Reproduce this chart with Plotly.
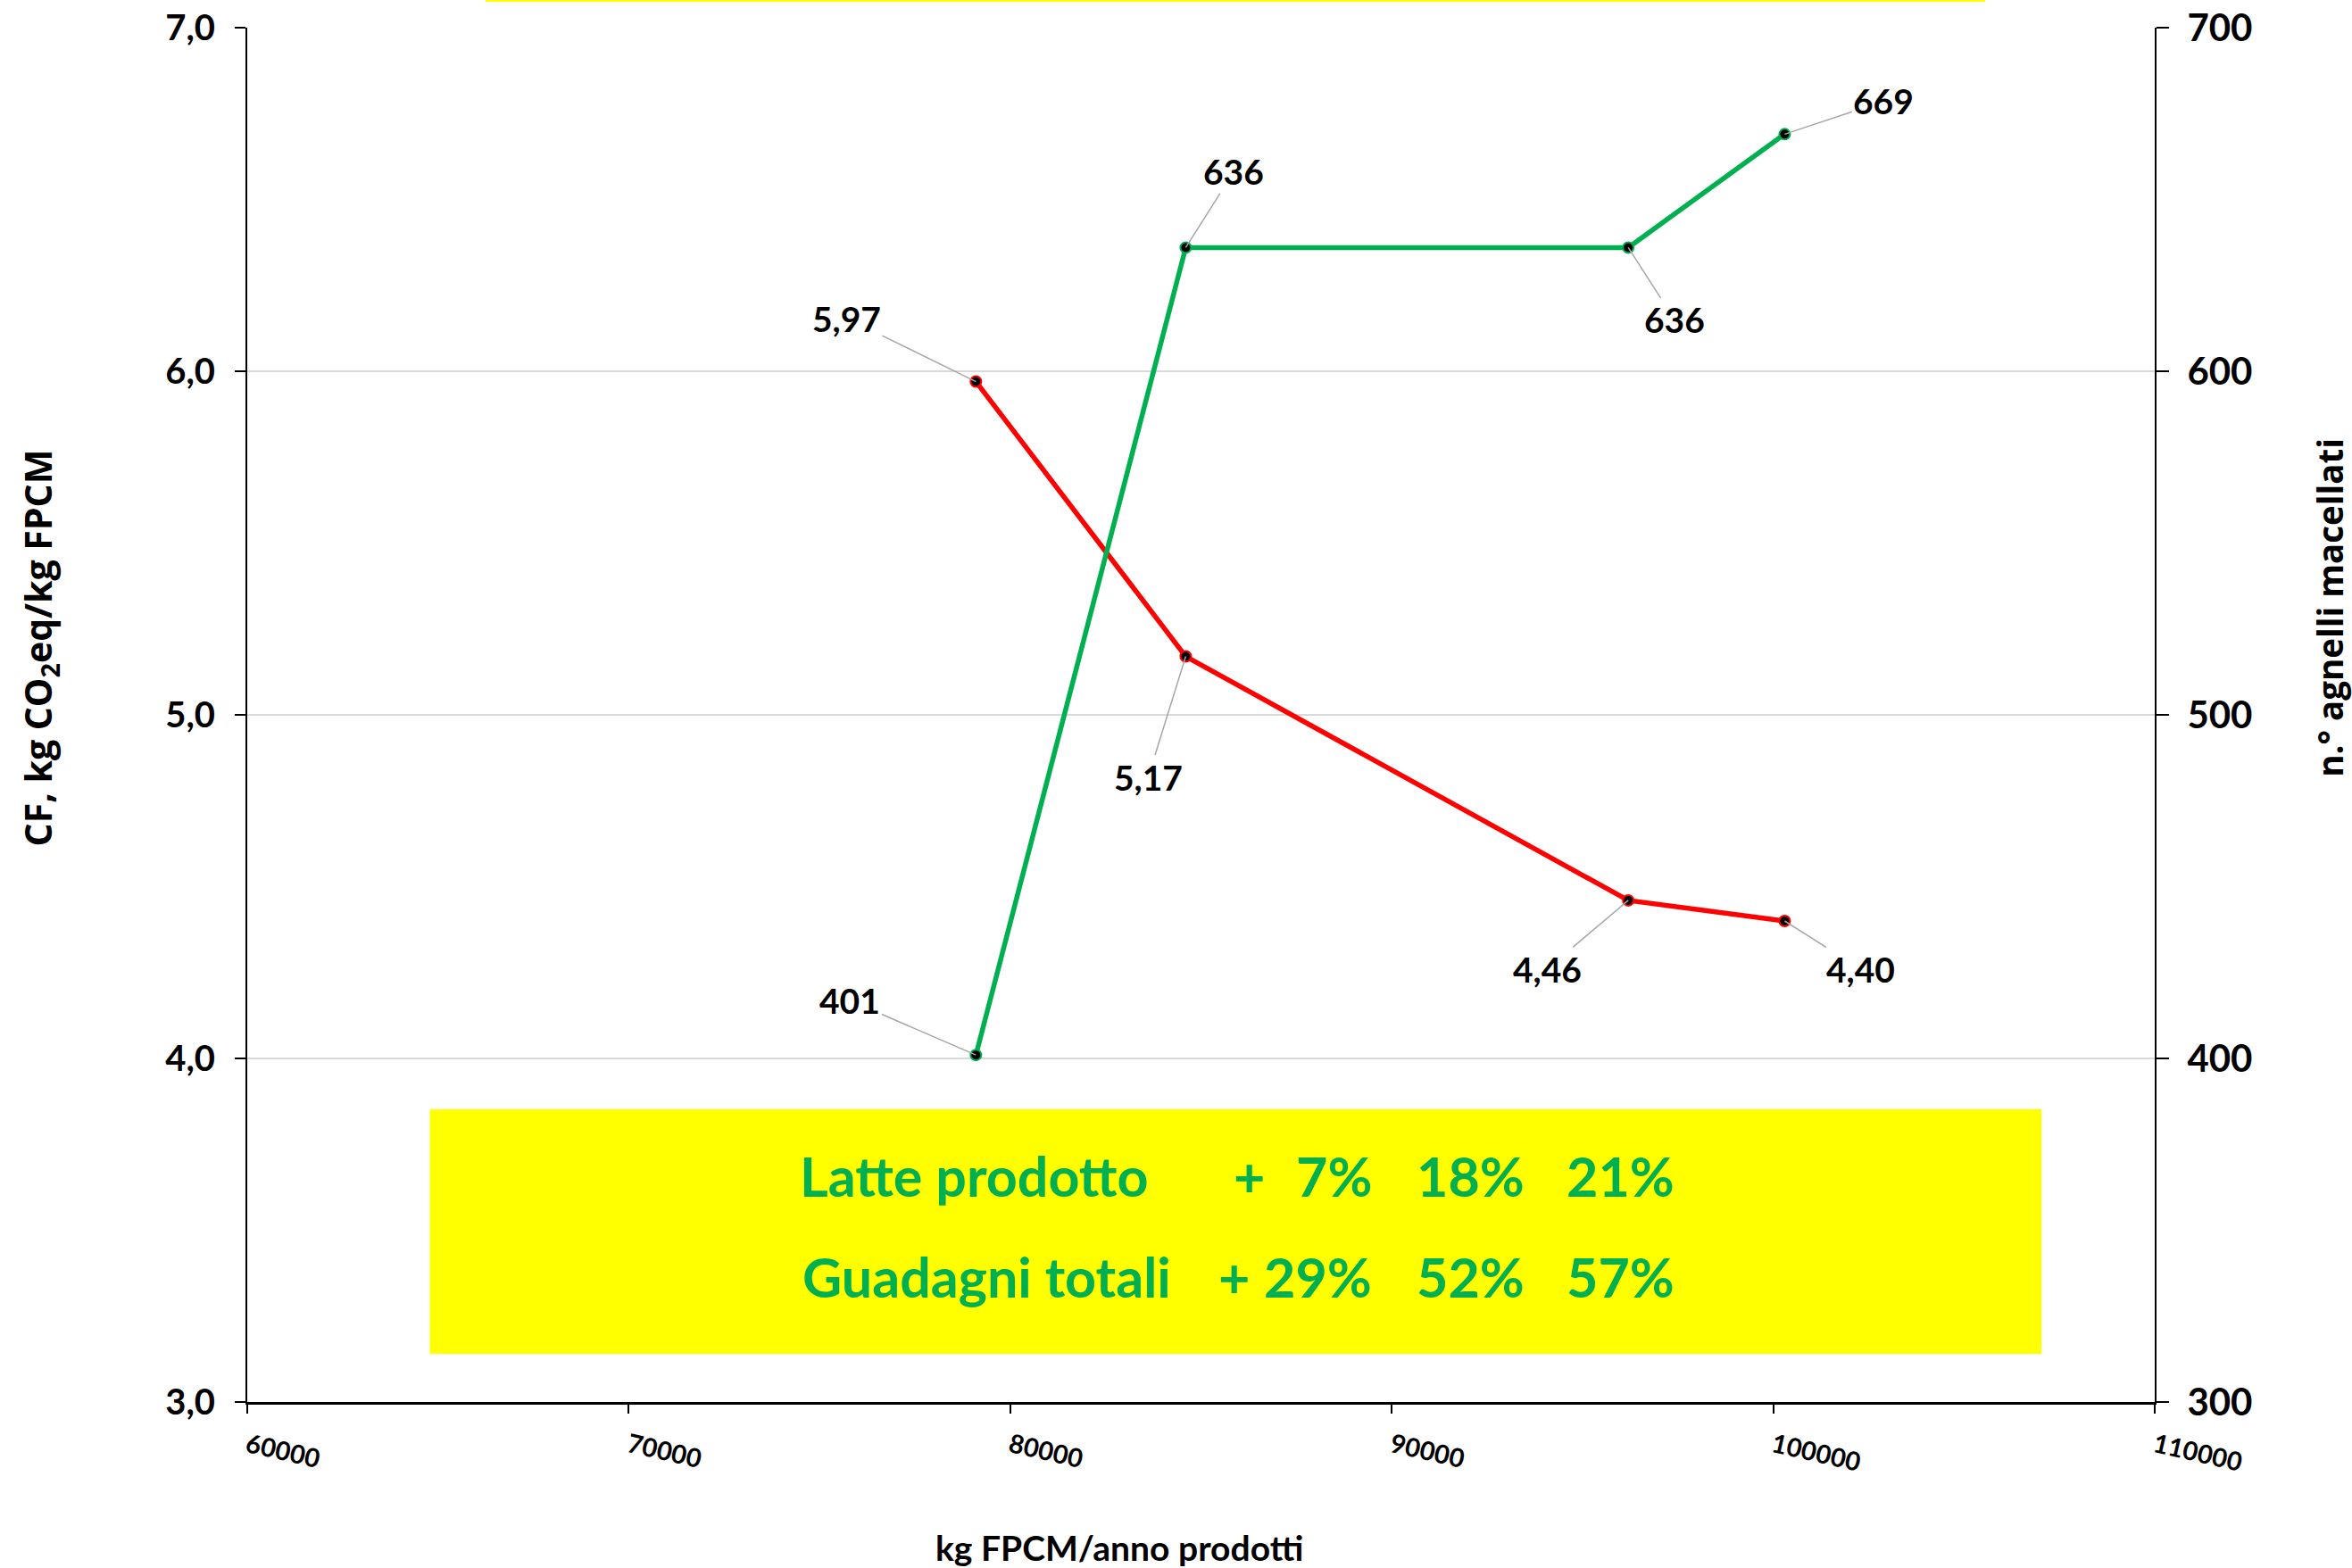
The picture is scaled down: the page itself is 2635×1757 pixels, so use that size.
import plotly.graph_objects as go

# ---- data ----
milk_kg = [79100, 84600, 96200, 100300]          # kg FPCM/anno prodotti
cf_values = [5.97, 5.17, 4.46, 4.40]              # CF, kg CO2eq/kg FPCM
lambs = [401, 636, 636, 669]                      # n.° agnelli macellati

x_ticks = [60000, 70000, 80000, 90000, 100000, 110000]
y_left_ticks = [3.0, 4.0, 5.0, 6.0, 7.0]
y_right_ticks = [300, 400, 500, 600, 700]

# label offsets (pixels) for leader-line labels
cf_label_off = [(-145, -71), (-42, 135), (-91, 77), (85, 54)]
lamb_label_off = [(-141, -61), (54, -85), (52, 81), (111, -37)]

row_names = ["Latte prodotto", "Guadagni totali"]
row_values = [["7%", "18%", "21%"], ["29%", "52%", "57%"]]

RED = "#FF0000"
GREEN = "#00B050"
CAL = "Lato, 'Open Sans', sans-serif"
OS = "'Open Sans', sans-serif"

fig = go.Figure()

fig.add_trace(go.Scatter(
    x=milk_kg, y=cf_values, mode="lines+markers",
    line=dict(color=RED, width=5.5),
    marker=dict(color="black", size=12, line=dict(color=RED, width=2)),
    yaxis="y", showlegend=False, hoverinfo="skip"))

fig.add_trace(go.Scatter(
    x=milk_kg, y=lambs, mode="lines+markers",
    line=dict(color=GREEN, width=5.5),
    marker=dict(color="black", size=12, line=dict(color=GREEN, width=2)),
    yaxis="y2", showlegend=False, hoverinfo="skip"))

label_font = dict(family=CAL, size=39, color="black", weight="bold")
annotations = []
for xv, yv, (ax, ay) in zip(milk_kg, cf_values, cf_label_off):
    annotations.append(dict(
        x=xv, y=yv, xref="x", yref="y",
        text=f"{yv:.2f}".replace(".", ","),
        showarrow=True, arrowhead=0, arrowwidth=1.5, arrowcolor="#A6A6A6",
        ax=ax, ay=ay, standoff=0, font=label_font))
for xv, yv, (ax, ay) in zip(milk_kg, lambs, lamb_label_off):
    annotations.append(dict(
        x=xv, y=yv, xref="x", yref="y2",
        text=f"{yv:d}",
        showarrow=True, arrowhead=0, arrowwidth=1.5, arrowcolor="#A6A6A6",
        ax=ax, ay=ay, standoff=0, font=label_font))

# text inside yellow box
box_font = dict(family=CAL, size=61, color=GREEN, weight="bold")
row_y = [0.1645, 0.0912]
name_x = [0.2887, 0.2901]
plus_x = [0.5255, 0.5175]
col_x = [0.5905, 0.6705, 0.7491]
for i in range(2):
    annotations.append(dict(x=name_x[i], y=row_y[i], xref="paper", yref="paper",
                            text=row_names[i], showarrow=False, xanchor="left",
                            yanchor="middle", font=box_font))
    annotations.append(dict(x=plus_x[i], y=row_y[i], xref="paper", yref="paper",
                            text="+", showarrow=False, xanchor="center",
                            yanchor="middle", font=box_font))
    for j, v in enumerate(row_values[i]):
        annotations.append(dict(x=col_x[j], y=row_y[i], xref="paper", yref="paper",
                                text=v, showarrow=False, xanchor="right",
                                yanchor="middle", font=box_font))

# axis titles as annotations
annotations.append(dict(x=-0.1086, y=0.549, xref="paper", yref="paper",
                        text="CF, kg CO<sub>2</sub>eq/kg FPCM", textangle=-90,
                        showarrow=False, xanchor="center", yanchor="middle",
                        font=dict(family=OS, size=41, color="black", weight="bold")))
annotations.append(dict(x=1.0917, y=0.578, xref="paper", yref="paper",
                        text="n.° agnelli macellati", textangle=-90,
                        showarrow=False, xanchor="center", yanchor="middle",
                        font=dict(family=OS, size=38.5, color="black", weight="bold")))
annotations.append(dict(x=0.4572, y=-0.1058, xref="paper", yref="paper",
                        text="kg FPCM/anno prodotti",
                        showarrow=False, xanchor="center", yanchor="middle",
                        font=dict(family=CAL, size=39, color="black", weight="bold")))

shapes = [
    dict(type="rect", xref="paper", yref="paper", x0=0.0957, x1=0.9406, y0=0.0351, y1=0.2130,
         fillcolor="#FFFF00", line=dict(width=0), layer="below"),
    dict(type="rect", xref="paper", yref="paper", x0=0.1249, x1=0.9111, y0=1.0188, y1=1.04,
         fillcolor="#FFFF00", line=dict(width=0), layer="below"),
]

fig.update_layout(
    width=2635, height=1757,
    margin=dict(l=277, r=221, t=31, b=186, pad=0, autoexpand=False),
    paper_bgcolor="white", plot_bgcolor="white",
    separators=",.",
    annotations=annotations, shapes=shapes,
    xaxis=dict(range=[x_ticks[0], x_ticks[-1]], tickvals=x_ticks, tickformat="d",
               tickangle=13, ticks="outside", ticklen=10, tickwidth=2, tickcolor="black",
               showline=True, linecolor="black", linewidth=3, showgrid=False, zeroline=False,
               ticklabelstandoff=8, automargin=False,
               tickfont=dict(family=CAL, size=29, color="black", weight="bold")),
    yaxis=dict(range=[y_left_ticks[0], y_left_ticks[-1]], tickvals=y_left_ticks,
               tickformat=".1f", ticks="outside", ticklen=12, tickwidth=2, tickcolor="black",
               showline=True, linecolor="black", linewidth=2, showgrid=True,
               gridcolor="#D9D9D9", gridwidth=2, zeroline=False, ticklabelstandoff=14,
               automargin=False,
               tickfont=dict(family=CAL, size=40, color="black", weight="bold")),
    yaxis2=dict(range=[y_right_ticks[0], y_right_ticks[-1]], tickvals=y_right_ticks,
                overlaying="y", side="right", ticks="outside", ticklen=14, tickwidth=2,
                tickcolor="black", showline=True, linecolor="black", linewidth=2,
                showgrid=False, zeroline=False, ticklabelstandoff=12, automargin=False,
                tickfont=dict(family=CAL, size=42, color="black", weight="bold")),
)

fig.write_html("out.html")
